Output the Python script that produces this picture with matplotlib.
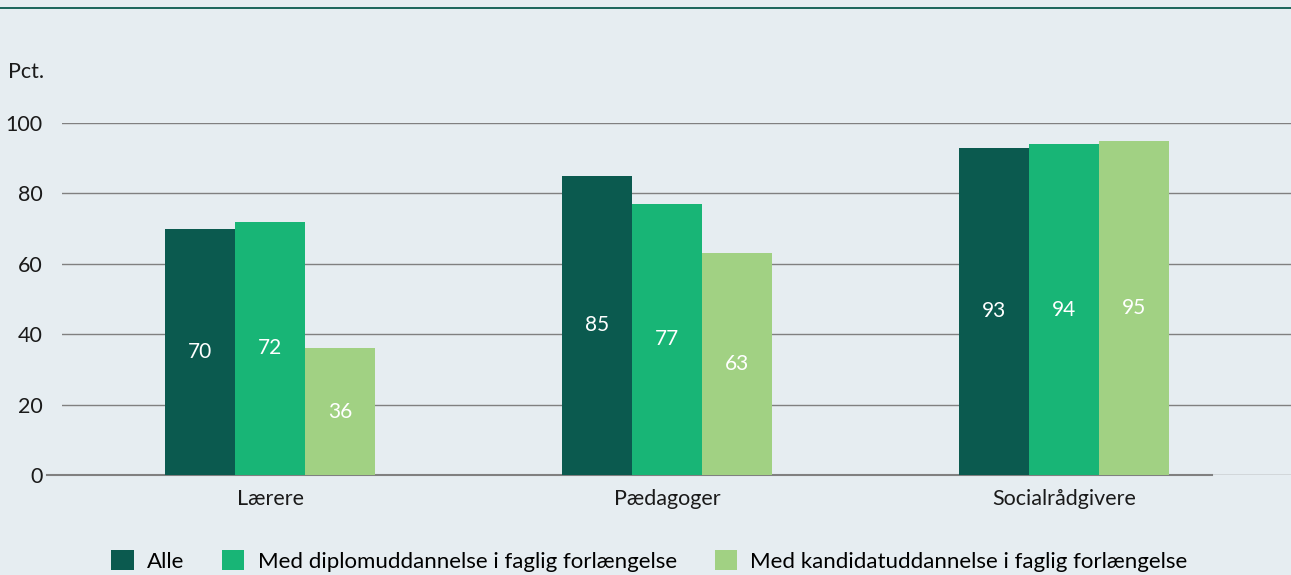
import numpy as np
import matplotlib
matplotlib.use("Agg")
import matplotlib.pyplot as plt
from matplotlib.patches import Patch

# Data
categories = ["Lærere", "Pædagoger", "Socialrådgivere"]
series_names = ["Alle",
                "Med diplomuddannelse i faglig forlængelse",
                "Med kandidatuddannelse i faglig forlængelse"]
alle = [70, 85, 93]
diplom = [72, 77, 94]
kandidat = [36, 63, 95]
y_ticks = [0, 20, 40, 60, 80, 100]

# Style
BG = "#E6EDF1"
COLORS = ["#0B5A4F", "#18B576", "#A1D183"]
plt.rcParams["font.family"] = ["Lato", "DejaVu Sans"]

fig = plt.figure(figsize=(12.91, 5.75), dpi=100, facecolor=BG)
ax = fig.add_axes([62 / 1291, 1 - 475 / 575, 1 - 62 / 1291, (475 - 123) / 575])
ax.set_facecolor(BG)

# top rule
fig.add_artist(plt.Line2D([0, 1], [1 - 8 / 575, 1 - 8 / 575], color="#0B5A4F", lw=1.3))

x = np.arange(len(categories))
width = 0.177
for i, (vals, col) in enumerate(zip([alle, diplom, kandidat], COLORS)):
    pos = x + (i - 1) * width
    bars = ax.bar(pos, vals, width, color=col, zorder=3, linewidth=0)
    for b, v in zip(bars, vals):
        ax.text(b.get_x() + b.get_width() / 2, v / 2, str(v), ha="center", va="center",
                color="white", fontsize=15, zorder=4)

ax.set_xlim(-0.524, 2.572)
ax.set_ylim(0, 100)
ax.set_yticks(y_ticks)
ax.set_xticks(x)
ax.set_xticklabels(categories)
ax.tick_params(axis="both", length=0, labelsize=15.5, colors="#1a1a1a")
ax.tick_params(axis="y", pad=14)
ax.tick_params(axis="x", pad=10)
for s in ax.spines.values():
    s.set_visible(False)
ax.yaxis.grid(True, color="#808080", lw=1.0, zorder=0)
ax.set_axisbelow(True)
# baseline
ax.axhline(0, xmin=-15 / (1291 - 62), xmax=(1212 - 62) / (1291 - 62), color="#808080",
           lw=1.5, zorder=2, clip_on=False)

fig.text(8 / 1291, 1 - 72 / 575, "Pct.", fontsize=15.5, va="center", ha="left", color="#1a1a1a")

handles = [Patch(facecolor=c, edgecolor="none") for c in COLORS]
fig.legend(handles, series_names, loc="center", bbox_to_anchor=(0.503, 1 - 561 / 575),
           ncol=3, frameon=False, fontsize=16, handlelength=1.0, handleheight=1.0,
           handletextpad=0.6, columnspacing=1.7)

fig.savefig("out.png", dpi=100, facecolor=BG)
